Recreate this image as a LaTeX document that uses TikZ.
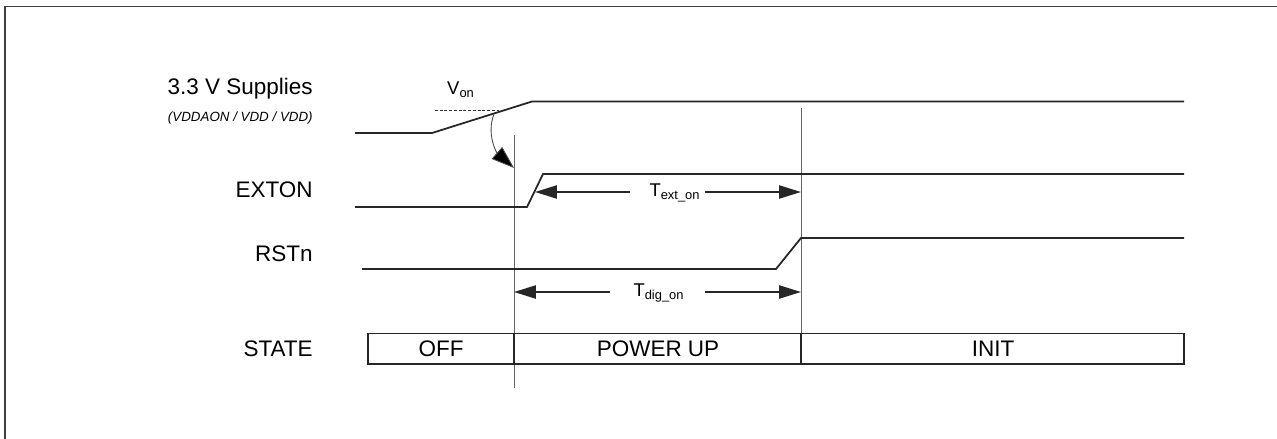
\documentclass[tikz,border=0pt]{standalone}
\usepackage{fontspec}
\setmainfont{Liberation Sans}
\usetikzlibrary{arrows.meta}
\begin{document}
\begin{tikzpicture}[x=0.02cm,y=-0.02cm,
  sig/.style={line width=1pt, black!85},
  guide/.style={line width=0.5pt, black!60},
  frm/.style={line width=1.1pt, black!75},
  dimarrow/.style={line width=1pt, black!85, -{Triangle[length=12.5pt,width=7.5pt]}},
  lbl/.style={anchor=east, inner sep=0pt, font=\fontsize{12.8}{15}\selectfont},
  sublbl/.style={anchor=east, inner sep=0pt, font=\fontsize{7.6}{9}\selectfont\itshape},
  stxt/.style={inner sep=0pt, font=\fontsize{12.8}{15}\selectfont},
  dlbl/.style={inner sep=0pt, font=\fontsize{10.5}{12}\selectfont}]
\useasboundingbox (0,0) rectangle (1277,439);
% frame
\draw[frm] (5,439) -- (5,6.5) -- (1277,6.5);
% labels
\node[lbl] (lsup) at (313,89) {3.3 V Supplies};
\node[sublbl] (lsub) at (313,118) {(VDDAON / VDD / VDD)};
\node[lbl] (lext) at (313,190) {EXTON};
\node[lbl] (lrst) at (313,254) {RSTn};
\node[lbl] (lst) at (313,349) {STATE};
% guide lines
\coordinate (g1t) at (514,135); \coordinate (g1b) at (514,388);
\coordinate (g2t) at (801,108); \coordinate (g2b) at (801,365);
\draw[guide] (g1t) -- (g1b);
\draw[guide] (g2t) -- (g2b);
% supply waveform
\draw[sig] (355,133) -- (432,133) -- (532,101.5) -- (1184,101.5);
\coordinate (vd1) at (435,110.5); \coordinate (vd2) at (502,110.5);
\draw[line width=0.7pt, dash pattern=on 1.6pt off 1.1pt, black!80] (vd1) -- (vd2);
\node[inner sep=0pt, font=\fontsize{10.5}{12}\selectfont] (von) at (461,90) {V\textsubscript{on}};
\coordinate (cs) at (494,114);
\coordinate (ce) at (514,168);
\draw[line width=0.5pt, black!70, -{Triangle[length=13pt,width=9pt,fill=black]}] (cs) .. controls (486,135) and (497,153) .. (ce);
% EXTON waveform
\draw[sig] (355,207) -- (527,207) -- (543,174) -- (1184,174);
% RSTn waveform
\draw[sig] (362,269) -- (776,269) -- (801,238) -- (1184,238);
% T_ext_on
\node[dlbl] (text) at (675,193) {T\textsubscript{ext\_on}};
\coordinate (te1) at (630,192); \coordinate (te2) at (705,192);
\coordinate (tel) at (535,192); \coordinate (ter) at (801,192);
\draw[dimarrow] (te1) -- (tel);
\draw[dimarrow] (te2) -- (ter);
% T_dig_on
\node[dlbl] (tdig) at (659,293) {T\textsubscript{dig\_on}};
\coordinate (td1) at (610,292); \coordinate (td2) at (705,292);
\coordinate (tdl) at (514,292); \coordinate (tdr) at (801,292);
\draw[dimarrow] (td1) -- (tdl);
\draw[dimarrow] (td2) -- (tdr);
% STATE boxes
\draw[line width=1pt, black!85] (368,333.5) rectangle (1184,364);
\draw[line width=1pt, black!85] (514,333.5) -- (514,364);
\draw[line width=1pt, black!85] (801,333.5) -- (801,364);
\node[stxt] (soff) at (441,349) {OFF};
\node[stxt] (spu) at (658,349) {POWER UP};
\node[stxt] (sinit) at (993,349) {INIT};
\end{tikzpicture}
\end{document}
